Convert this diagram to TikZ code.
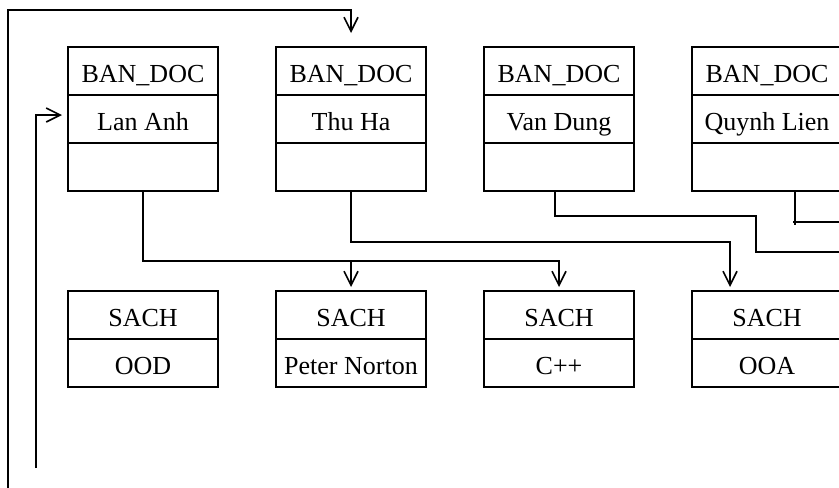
\documentclass[tikz,border=0pt]{standalone}
\usepackage{fontspec}
\setmainfont{Liberation Serif}
\usetikzlibrary{arrows.meta,positioning}

\begin{document}
\begin{tikzpicture}[
    x=0.5pt,y=-0.5pt,
    node distance=29pt,
    row/.style={rectangle,draw,line width=1pt,minimum width=75pt,minimum height=24pt,inner sep=0pt,outer sep=0pt,text height=11pt,text depth=0pt,font=\fontsize{13}{15}\selectfont},
    link/.style={line width=0.8pt},
    >={Straight Barb[length=7pt,width=7pt]}]
    \useasboundingbox (0,0) rectangle (839,487);
    \clip (0,0) rectangle (839,487);
    % readers
    \node[row] (bd1) at (143,71) {BAN\_DOC};
    \node[row,below=0pt of bd1] (bdn1) {Lan Anh};
    \node[row,below=0pt of bdn1] (bde1) {};
    \node[row,right=of bd1] (bd2) {BAN\_DOC};
    \node[row,below=0pt of bd2] (bdn2) {Thu Ha};
    \node[row,below=0pt of bdn2] (bde2) {};
    \node[row,right=of bd2] (bd3) {BAN\_DOC};
    \node[row,below=0pt of bd3] (bdn3) {Van Dung};
    \node[row,below=0pt of bdn3] (bde3) {};
    \node[row,right=of bd3] (bd4) {BAN\_DOC};
    \node[row,below=0pt of bd4] (bdn4) {Quynh Lien};
    \node[row,below=0pt of bdn4] (bde4) {};
    % books
    \node[row,below=50pt of bde1] (sc1) {SACH};
    \node[row,below=0pt of sc1] (scn1) {OOD};
    \node[row,right=of sc1] (sc2) {SACH};
    \node[row,below=0pt of sc2] (scn2) {Peter Norton};
    \node[row,right=of sc2] (sc3) {SACH};
    \node[row,below=0pt of sc3] (scn3) {C++};
    \node[row,right=of sc3] (sc4) {SACH};
    \node[row,below=0pt of sc4] (scn4) {OOA};
    % loose ends
    \coordinate (outA) at (8,500);
    \coordinate (inA) at (36,468);
    \coordinate (vdOut) at (850,252);
    \coordinate (qlOut) at (850,222);
    \coordinate (jPN) at ([yshift=15pt]sc2.north);
    % links
    \draw[link,->] (outA) |- ([yshift=18.5pt]bd2.north) -- ([yshift=7pt]bd2.north);
    \draw[link,->] (inA) |- ([xshift=-3pt,yshift=2pt]bdn1.west);
    \draw[link,->] (bde1.south) |- ([yshift=15pt]sc3.north) -- ([yshift=2pt]sc3.north);
    \draw[link,->] (jPN) -- ([yshift=2pt]sc2.north);
    \draw[link,->] (bde2.south) |- ([xshift=-18.5pt,yshift=24.5pt]sc4.north) -- ([xshift=-18.5pt,yshift=2pt]sc4.north);
    \draw[link] ([xshift=-2pt]bde3.south) -- ++(0,25) -| ([xshift=-47pt]vdOut) -- (vdOut);
    \draw[link] ([xshift=14pt]bde4.south) -- ++(0,34);
    \draw[link] ([xshift=13pt]bde4.south |- qlOut) -- (qlOut);
  \end{tikzpicture}
\end{document}
